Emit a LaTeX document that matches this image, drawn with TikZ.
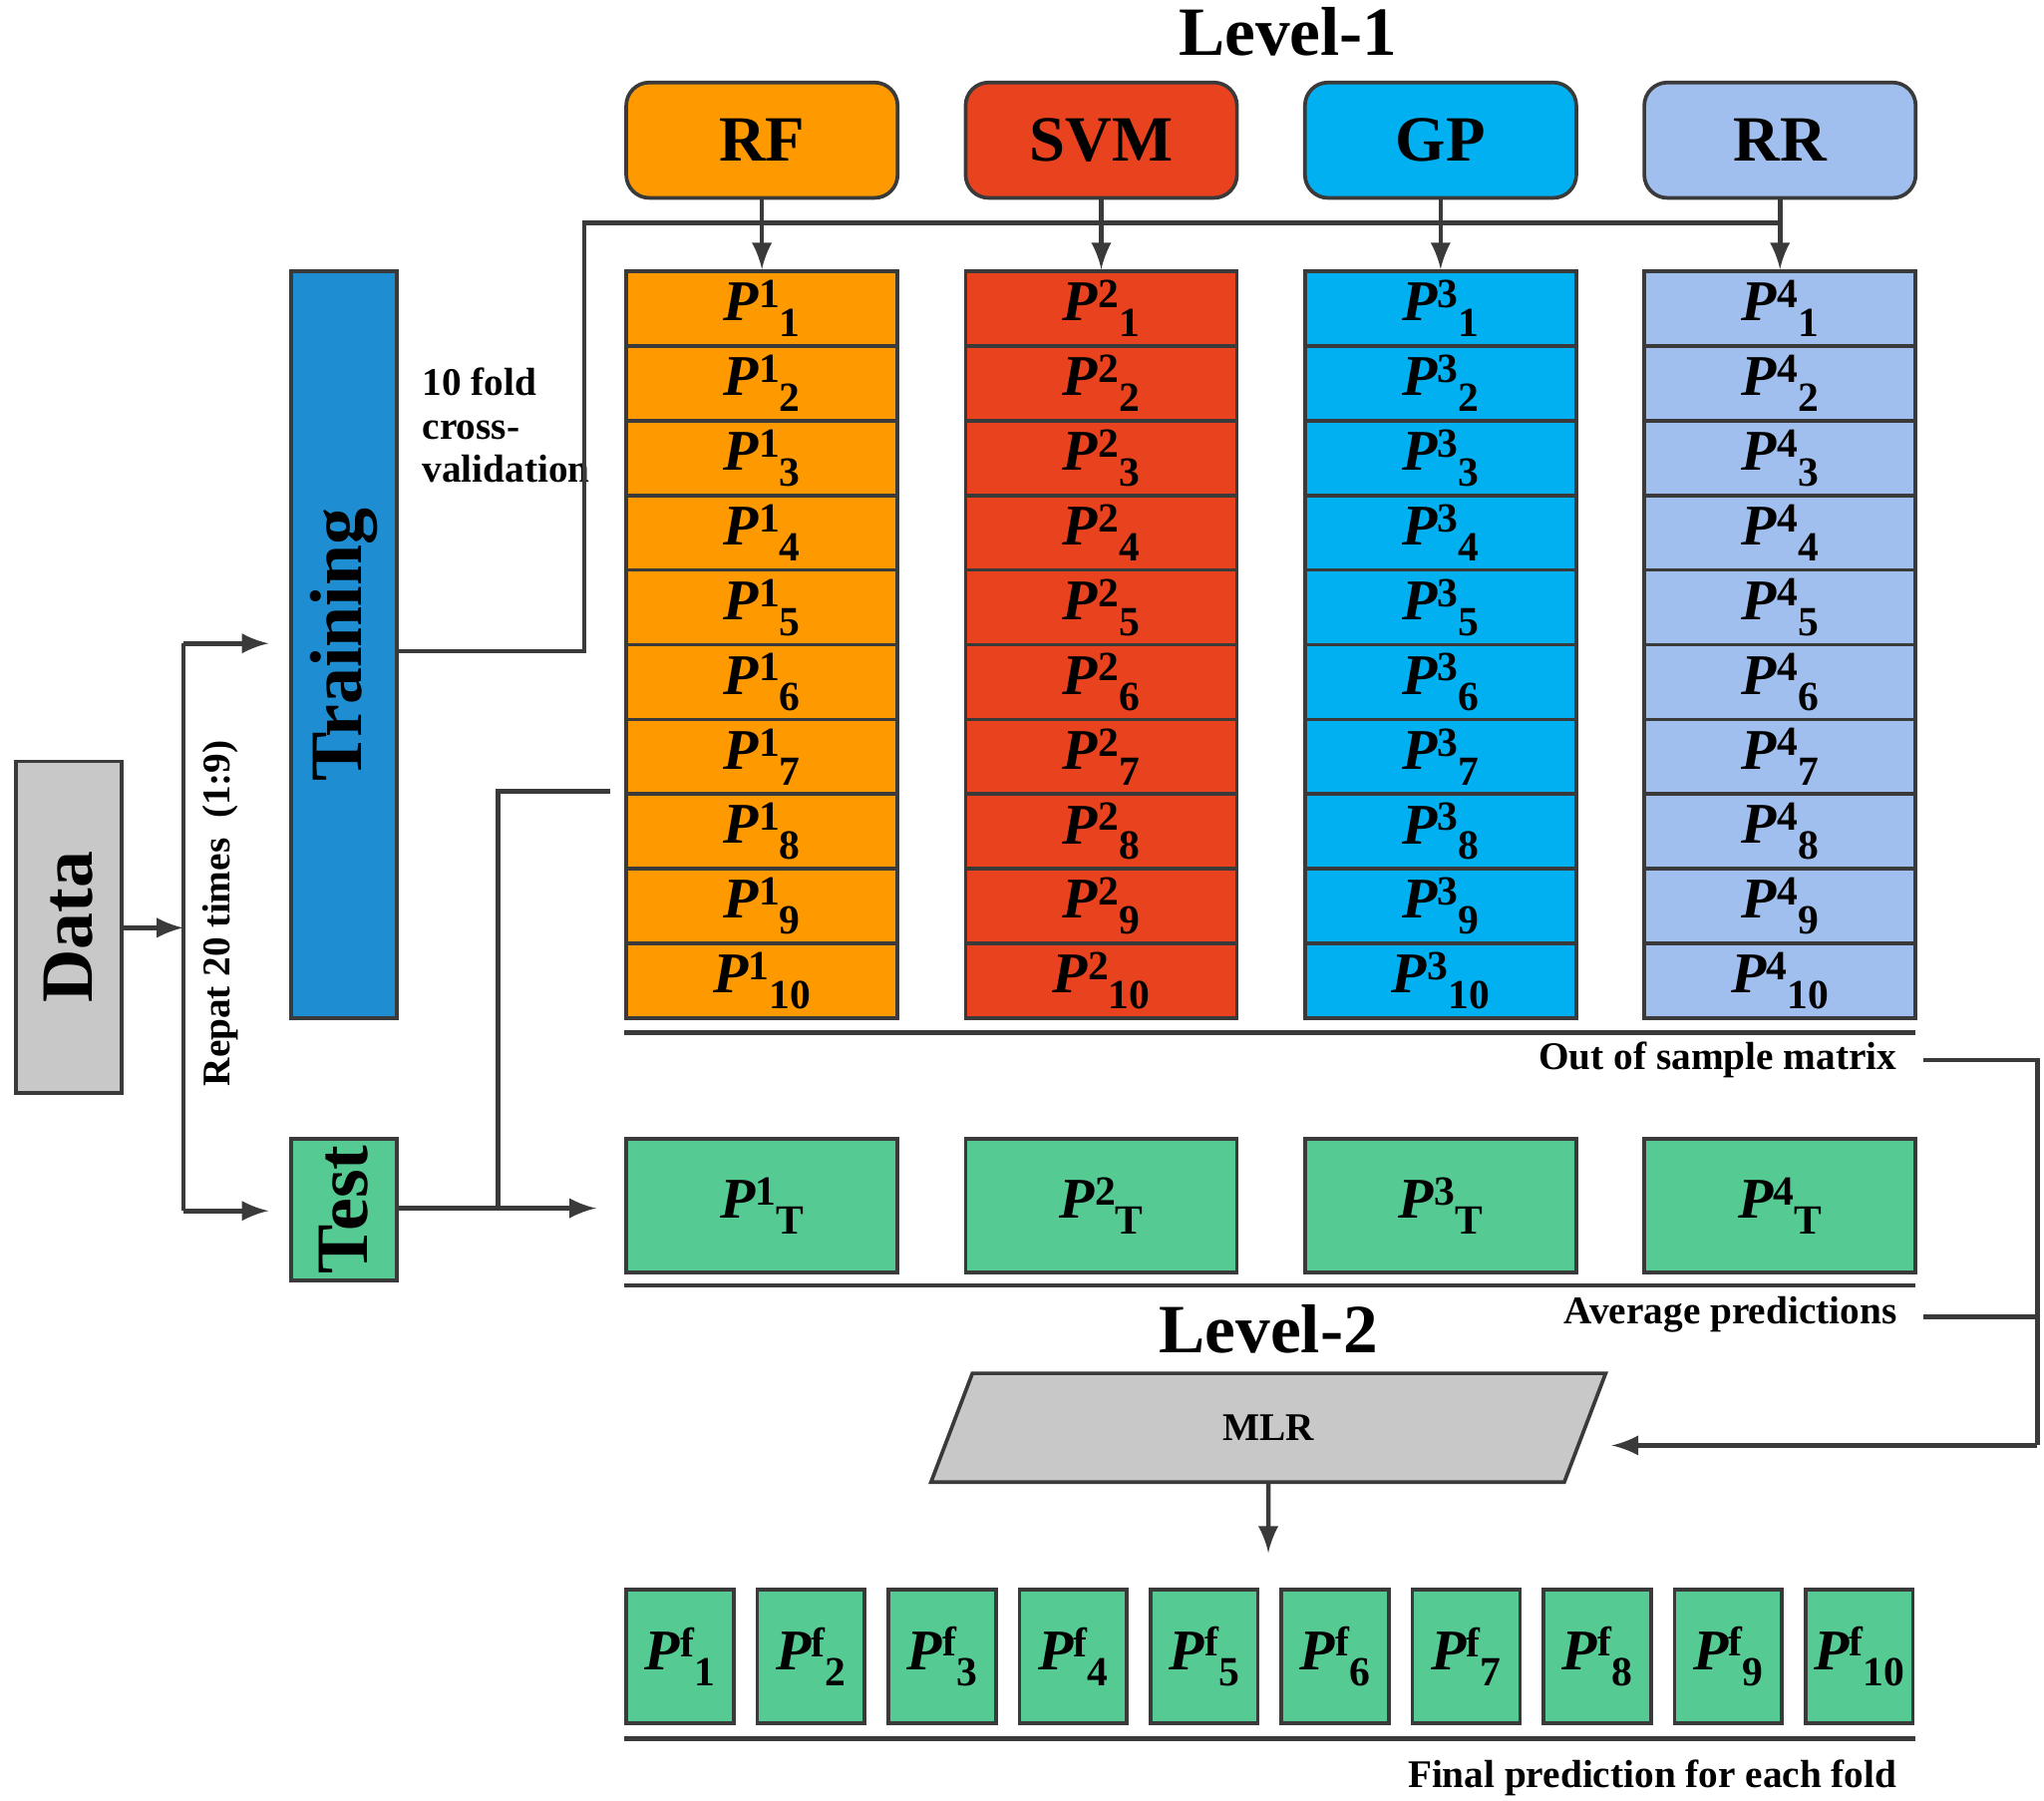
\documentclass[tikz,border=0pt]{standalone}
\usepackage{fontspec}
\setmainfont{Liberation Serif}
\usetikzlibrary{shapes.geometric}
\definecolor{rfc}{HTML}{FF9900}
\definecolor{svmc}{HTML}{E8431E}
\definecolor{gpc}{HTML}{00B0F0}
\definecolor{rrc}{HTML}{A0BFEE}
\definecolor{trc}{HTML}{1E8DD2}
\definecolor{tsc}{HTML}{55CA92}
\definecolor{grc}{HTML}{C8C8C8}
\definecolor{lnc}{HTML}{3A3A3A}
\newcommand{\pp}[2]{\textbf{\textit{P}\raisebox{0.5ex}{\fontsize{9}{9}\selectfont #1}\raisebox{-0.6ex}{\fontsize{9}{9}\selectfont #2}}}
\tikzset{
  cell/.style={draw=lnc, line width=0.8pt, minimum width=2.07cm, minimum height=0.57cm, inner sep=0pt, font=\fontsize{12.5}{12.5}\selectfont},
  head/.style={draw=lnc, line width=0.8pt, rounded corners=5pt, minimum width=2.07cm, minimum height=0.88cm, font=\bfseries\fontsize{14}{14}\selectfont},
  rot/.style={rotate=90, font=\bfseries\fontsize{16}{16}\selectfont},
  arr/.style={draw=lnc, line width=1pt, -latex},
  ln/.style={draw=lnc, line width=1pt},
  small/.style={font=\bfseries\fontsize{8.5}{9.5}\selectfont}
}
\begin{document}
\begin{tikzpicture}[x=0.01cm,y=-0.01cm]
\useasboundingbox (0,0) rectangle (1560,1374);

\node[font=\bfseries\fontsize{15}{15}\selectfont] (lv1) at (983,24) {Level-1};
\node[font=\bfseries\fontsize{15}{15}\selectfont] (lv2) at (968,1014) {Level-2};

% models, columns and test predictions
\foreach \name/\col [count=\k] in {RF/rfc, SVM/svmc, GP/gpc, RR/rrc} {
  \pgfmathsetmacro{\xc}{581.5+259*(\k-1)}
  \node[head, fill=\col] (h\k) at (\xc,107) {\name};
  \foreach \i in {1,...,10} {
    \pgfmathsetmacro{\yc}{235.5+57*(\i-1)}
    \node[cell, fill=\col] (c\k-\i) at (\xc,\yc) {\pp{\k}{\i}};
  }
  \node[cell, fill=tsc, minimum height=1.02cm] (t\k) at (\xc,920) {\pp{\k}{T}};
  \draw[arr] (h\k) -- (c\k-1);
}

% final predictions
\foreach \i in {1,...,10} {
  \pgfmathsetmacro{\xf}{519+100*(\i-1)}
  \node[cell, fill=tsc, minimum width=0.82cm, minimum height=1.02cm] (f\i) at (\xf,1264) {\pp{f}{\i}};
}

\node[draw=lnc, line width=0.8pt, fill=grc, minimum width=0.81cm, minimum height=2.53cm] (data) at (52.5,707.5) {};
\node[rot] at (data) {Data};
\node[draw=lnc, line width=0.8pt, fill=trc, minimum width=0.81cm, minimum height=5.7cm] (train) at (262.5,492) {};
\node[rot] at (train) {Training};
\node[draw=lnc, line width=0.8pt, fill=tsc, minimum width=0.81cm, minimum height=1.08cm] (test) at (262.5,923) {};
\node[rot] at (test) {Test};

\node[small, align=left, anchor=north west] (cv) at (310,268) {10 fold\\cross-\\validation};
\node[small, rotate=90] (rep) at (168,697) {Repat 20 times\ \ (1:9)};

% data split
\coordinate (sp) at (140,708);
\draw[arr] (data.east |- sp) -- (sp);
\draw[ln] (140,491) -- (140,924);
\draw[arr] (140,491) -- (205,491);
\draw[arr] (140,924) -- (205,924);

% training to columns
\draw[ln] (train.east |- 0,497) -- (446,497) -- (446,170) -- (1357,170);
\draw[arr] (test.east |- 0,922) -- (455,922);
\draw[ln] (380,922) -- (380,604) -- (466,604);

% matrices
\draw[ln] (476,788) -- (1462,788);
\node[small, anchor=east] (oos) at (1460,809) {Out of sample matrix};
\draw[ln] (476,981) -- (1462,981);
\node[small, anchor=east] (avg) at (1460,1003) {Average predictions};
\draw[ln] (476,1327) -- (1462,1327);
\node[small, anchor=east] (fin) at (1460,1357) {Final prediction for each fold};

% level 2
\node[trapezium, trapezium left angle=76, trapezium right angle=104, trapezium stretches=true, draw=lnc, line width=0.8pt, fill=grc, minimum width=5.15cm, minimum height=0.83cm, inner sep=0pt, small] (mlr) at (968,1089.5) {MLR};
\draw[ln] (1468,809) -- (1555,809) -- (1555,1103);
\draw[ln] (1468,1005) -- (1555,1005);
\draw[arr] (1555,1103) -- (1230,1103);
\draw[arr] (mlr.south) -- (968,1185);
\end{tikzpicture}
\end{document}
